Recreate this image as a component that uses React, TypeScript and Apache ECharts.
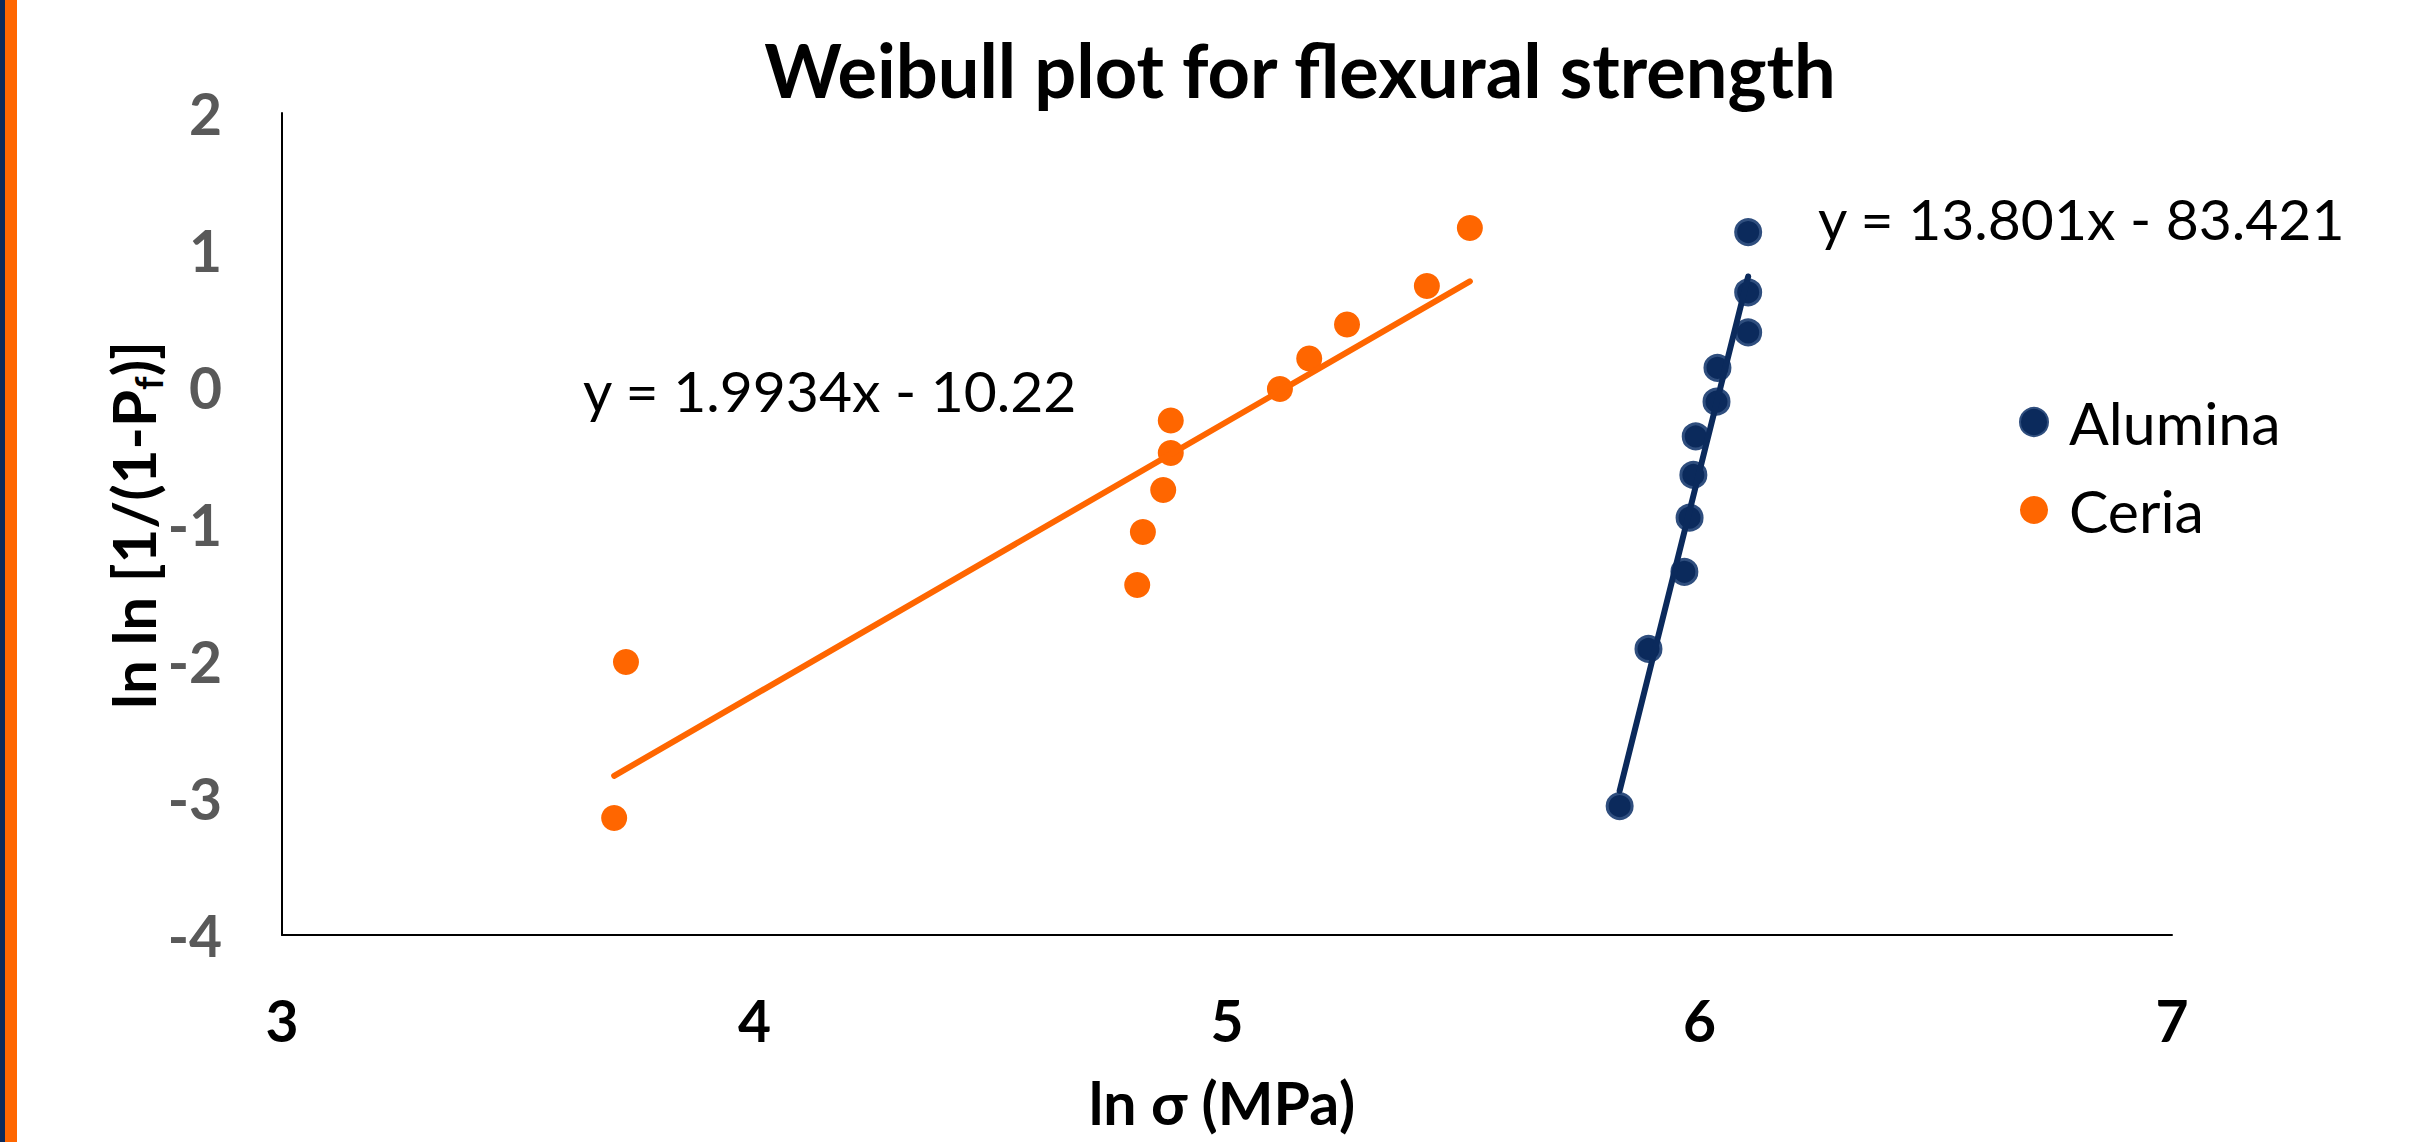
import React, { useEffect, useRef } from "react";
import * as echarts from "echarts";

const xTicks = [3, 4, 5, 6, 7];
const yTicks = [-4, -3, -2, -1, 0, 1, 2];

const aluminaX = [6.103, 6.103, 6.103, 6.038, 6.036, 5.992, 5.987, 5.979, 5.968, 5.892, 5.831];
const aluminaY = [1.131, 0.691, 0.398, 0.14, -0.107, -0.361, -0.642, -0.954, -1.349, -1.912, -3.059];
const ceriaX = [5.514, 5.423, 5.254, 5.174, 5.112, 4.881, 4.881, 4.865, 4.822, 4.81, 3.728, 3.703];
const ceriaY = [1.161, 0.737, 0.456, 0.208, -0.015, -0.245, -0.482, -0.752, -1.058, -1.445, -2.007, -3.146];

const aluminaFit = { slope: 13.801, intercept: -83.421 };
const ceriaFit = { slope: 1.9934, intercept: -10.22 };

const aluminaEq = "y = 13.801x - 83.421";
const ceriaEq = "y = 1.9934x - 10.22";

const NAVY = "#0b2a5c";
const NAVY_BORDER = "#2f4e7e";
const ORANGE = "#ff6600";
const FONT = "Lato, 'Open Sans', sans-serif";

function fitLine(xs: number[], fit: { slope: number; intercept: number }) {
  const lo = Math.min(...xs);
  const hi = Math.max(...xs);
  return [
    [lo, fit.slope * lo + fit.intercept],
    [hi, fit.slope * hi + fit.intercept],
  ];
}

export default function App() {
  const ref = useRef<HTMLDivElement>(null);
  useEffect(() => {
    if (!ref.current) return;
    const chart = echarts.init(ref.current, undefined, { renderer: "svg" });
    const option: any = {
      animation: false,
      backgroundColor: "#ffffff",
      grid: { left: 282, top: 113, width: 1890, height: 822, containLabel: false },
      xAxis: {
        type: "value",
        min: xTicks[0],
        max: xTicks[xTicks.length - 1],
        interval: 1,
        axisLine: { show: true, onZero: false, lineStyle: { color: "#000", width: 2 } },
        axisTick: { show: false },
        splitLine: { show: false },
        axisLabel: {
          color: "#000",
          fontFamily: FONT,
          fontWeight: "bold",
          fontSize: 57,
          margin: 56,
        },
      },
      yAxis: {
        type: "value",
        min: yTicks[0],
        max: yTicks[yTicks.length - 1],
        interval: 1,
        axisLine: { show: true, onZero: false, lineStyle: { color: "#000", width: 2 } },
        axisTick: { show: false },
        splitLine: { show: false },
        axisLabel: {
          color: "#595959",
          fontFamily: FONT,
          fontWeight: "bold",
          fontSize: 57,
          margin: 60,
        },
      },
      legend: {
        orient: "vertical",
        left: 2019,
        top: 389,
        padding: 0,
        itemGap: 22,
        itemWidth: 28,
        itemHeight: 28,
        icon: "circle",
        data: ["Alumina", "Ceria"],
        textStyle: {
          fontFamily: FONT,
          fontSize: 59,
          color: "#000",
          lineHeight: 66,
          padding: [0, 0, 0, 16],
        },
      },
      series: [
        {
          name: "Alumina",
          type: "scatter",
          symbol: "circle",
          symbolSize: 25,
          itemStyle: { color: NAVY, borderColor: NAVY_BORDER, borderWidth: 3, opacity: 1 },
          data: aluminaX.map((x, i) => [x, aluminaY[i]]),
          z: 2,
        },
        {
          name: "Ceria",
          type: "scatter",
          symbol: "circle",
          symbolSize: 26,
          itemStyle: { color: ORANGE, opacity: 1 },
          data: ceriaX.map((x, i) => [x, ceriaY[i]]),
          z: 2,
        },
        {
          name: "Alumina fit",
          type: "line",
          data: fitLine(aluminaX, aluminaFit),
          symbol: "none",
          lineStyle: { color: NAVY, width: 6, cap: "round" },
          silent: true,
          z: 3,
        },
        {
          name: "Ceria fit",
          type: "line",
          data: fitLine(ceriaX, ceriaFit),
          symbol: "none",
          lineStyle: { color: ORANGE, width: 6, cap: "round" },
          silent: true,
          z: 3,
        },
      ],
      graphic: [
        { type: "rect", left: 0, top: 0, shape: { width: 5, height: 1142 }, style: { fill: NAVY } },
        { type: "rect", left: 5, top: 0, shape: { width: 12, height: 1142 }, style: { fill: ORANGE } },
        {
          type: "text",
          x: 1300,
          y: 69,
          style: {
            text: "Weibull plot for flexural strength",
            fontFamily: FONT,
            fontWeight: "bold",
            fontSize: 74,
            fill: "#000",
            textAlign: "center",
            textVerticalAlign: "middle",
          },
        },
        {
          type: "text",
          x: 1222,
          y: 1102,
          style: {
            text: "ln σ (MPa)",
            fontFamily: FONT,
            fontWeight: "bold",
            fontSize: 59,
            fill: "#000",
            textAlign: "center",
            textVerticalAlign: "middle",
          },
        },
        {
          type: "text",
          x: 133,
          y: 525,
          rotation: Math.PI / 2,
          style: {
            text: "{b|ln ln [1/(1-P}{s|f}{b|)]}",
            textAlign: "center",
            textVerticalAlign: "middle",
            fill: "#000",
            rich: {
              b: { fontFamily: FONT, fontWeight: "bold", fontSize: 60, lineHeight: 68, fill: "#000" },
              s: {
                fontFamily: FONT,
                fontWeight: "bold",
                fontSize: 38,
                lineHeight: 38,
                verticalAlign: "bottom",
                fill: "#000",
              },
            },
          },
        },
        {
          type: "text",
          x: 583,
          y: 390,
          style: {
            text: ceriaEq,
            fontFamily: FONT,
            fontSize: 57,
            fill: "#000",
            textAlign: "left",
            textVerticalAlign: "middle",
          },
        },
        {
          type: "text",
          x: 1818,
          y: 218,
          style: {
            text: aluminaEq,
            fontFamily: FONT,
            fontSize: 57,
            fill: "#000",
            textAlign: "left",
            textVerticalAlign: "middle",
          },
        },
      ],
    };
    chart.setOption(option);
    return () => chart.dispose();
  }, []);
  return (
    <div
      ref={ref}
      style={{ position: "fixed", left: 0, top: 0, width: 2413, height: 1142, background: "#fff" }}
    />
  );
}
